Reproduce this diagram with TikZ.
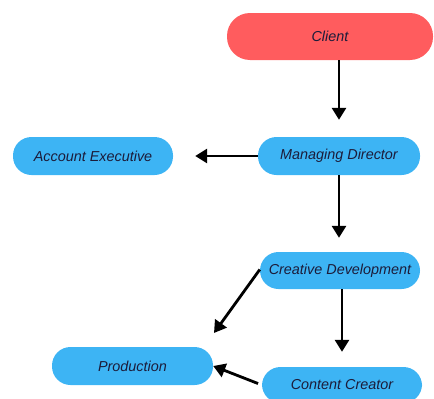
\documentclass[tikz,border=0pt]{standalone}
\usepackage{fontspec}
\setmainfont{Liberation Sans}
\usetikzlibrary{arrows.meta}
\definecolor{clientred}{HTML}{FF5C5E}
\definecolor{roleblue}{HTML}{3DB4F4}
\definecolor{labelink}{HTML}{1C1C3A}
\begin{document}
\begin{tikzpicture}[x=1pt,y=-1pt,
  pill/.style={fill=#1, draw=none, rounded corners=18.5pt, minimum height=38pt,
    inner sep=0pt, text=labelink, font=\fontsize{14.4}{16}\selectfont\itshape},
  link/.style={line width=2.8pt, draw=black,
    -{Triangle[length=12pt,width=14pt]}}]
  \useasboundingbox (0,0) rectangle (434,399);
  % people and roles
  \node[pill=clientred, minimum width=206pt, minimum height=47pt, rounded corners=23pt] (client) at (330,36.5) {Client};
  \node[pill=roleblue, minimum width=162pt] (md)   at (339,156) {Managing Director};
  \node[pill=roleblue, minimum width=160pt] (ae)   at (93,156)  {Account Executive};
  \node[pill=roleblue, minimum width=160pt, minimum height=37pt] (cd) at (340,270.5) {Creative Development};
  \node[pill=roleblue, minimum width=161pt] (prod) at (132.5,366) {Production};
  \node[pill=roleblue, minimum width=160pt, minimum height=36pt] (cc) at (342,385) {Content Creator};
  % free end of the slanted arrow towards Production
  \coordinate (cdtoprod) at (214,333);
  % reporting lines
  \draw[link, shorten >=17pt] (client.south -| md.north) -- (md.north);
  \draw[link, shorten >=22pt] (md.west) -- (ae.east);
  \draw[link, shorten >=14pt] (md.south) -- (md.south |- cd.north);
  \draw[link, shorten >=15pt] (cd.south -| cc.north) -- (cc.north);
  \draw[link] ([yshift=1pt]cd.west) -- (cdtoprod);
  \draw[link, shorten <=4pt] (cc.west) -- (prod.east);
\end{tikzpicture}
\end{document}
